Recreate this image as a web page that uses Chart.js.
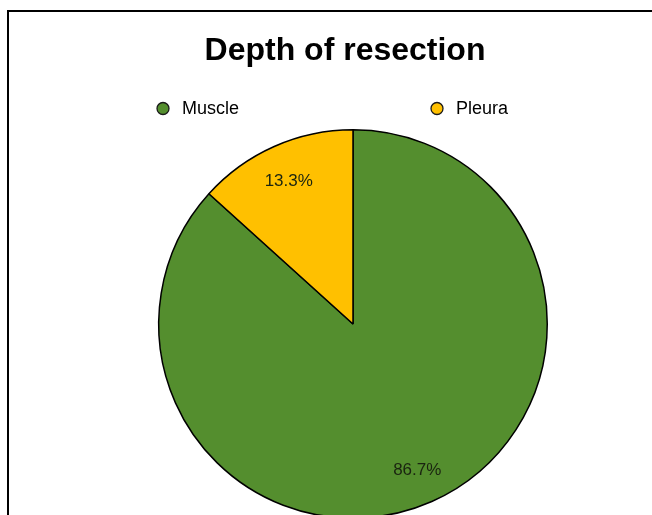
<!DOCTYPE html>
<html>
<head>
<meta charset="utf-8">
<script src="https://cdn.jsdelivr.net/npm/chart.js@4/dist/chart.umd.min.js"></script>
<style>
  html, body { margin: 0; padding: 0; background: #fff; overflow: hidden; width: 652px; height: 515px; }
  #frame { position: absolute; left: 7px; top: 10px; width: 650px; height: 520px;
           border-left: 2px solid #000; border-top: 2px solid #000; box-sizing: border-box; }
  #wrap { position: absolute; left: 0; top: 0; width: 652px; height: 522px; }
</style>
</head>
<body>
<div id="frame"></div>
<div id="wrap"><canvas id="c" width="652" height="522"></canvas></div>
<script>
// ---- data ----
const categories = ["Muscle", "Pleura"];
const percentValues = [86.7, 13.3];
const sliceColors = ["#548E2E", "#FFC000"];
const chartTitle = "Depth of resection";

// ---- layout constants (not data) ----
const legendX = [163, 437];
const legendY = 108.5;

const legendPlugin = {
  id: 'customLegend',
  afterDraw(chart) {
    const ctx = chart.ctx;
    ctx.save();
    ctx.font = '18px "Liberation Sans", Arial, sans-serif';
    ctx.textBaseline = 'middle';
    ctx.textAlign = 'left';
    chart.data.labels.forEach((lab, i) => {
      const x = legendX[i];
      ctx.beginPath();
      ctx.arc(x, legendY, 6, 0, Math.PI * 2);
      ctx.fillStyle = chart.data.datasets[0].backgroundColor[i];
      ctx.fill();
      ctx.lineWidth = 1.3;
      ctx.strokeStyle = '#1a1a1a';
      ctx.stroke();
      ctx.fillStyle = '#000';
      ctx.fillText(lab, x + 19, legendY + 1);
    });
    ctx.restore();
  }
};

const valueLabelPlugin = {
  id: 'valueLabels',
  afterDatasetsDraw(chart) {
    const ctx = chart.ctx;
    const meta = chart.getDatasetMeta(0);
    ctx.save();
    ctx.font = '17px "Liberation Sans", Arial, sans-serif';
    ctx.fillStyle = '#1a2410';
    ctx.textAlign = 'center';
    ctx.textBaseline = 'middle';
    meta.data.forEach((arc, i) => {
      const p = arc.getProps(['x', 'y', 'startAngle', 'endAngle', 'outerRadius'], true);
      const mid = (p.startAngle + p.endAngle) / 2;
      const r = p.outerRadius * 0.815;
      const v = chart.data.datasets[0].data[i];
      ctx.fillText(v.toFixed(1) + '%', p.x + Math.cos(mid) * r, p.y + Math.sin(mid) * r + 2);
    });
    ctx.restore();
  }
};

const shiftTitle = {
  id: 'shiftTitle',
  afterLayout(chart) {
    const t = chart.titleBlock;
    if (t) { t.left -= 8; t.right -= 8; }
  }
};

new Chart(document.getElementById('c'), {
  type: 'pie',
  data: {
    labels: categories,
    datasets: [{
      data: percentValues,
      backgroundColor: sliceColors,
      borderColor: '#000',
      borderWidth: 1.5
    }]
  },
  options: {
    responsive: false,
    animation: false,
    devicePixelRatio: 1,
    layout: { padding: { left: 54, right: 0, top: 0, bottom: 3 } },
    plugins: {
      legend: { display: false },
      tooltip: { enabled: false },
      title: {
        display: true,
        text: chartTitle,
        color: '#000',
        font: { family: '"Liberation Sans", Arial, sans-serif', size: 32, weight: 'bold', lineHeight: 1.2 },
        padding: { top: 32.3, bottom: 58.3 }
      }
    }
  },
  plugins: [legendPlugin, valueLabelPlugin, shiftTitle]
});
</script>
</body>
</html>
